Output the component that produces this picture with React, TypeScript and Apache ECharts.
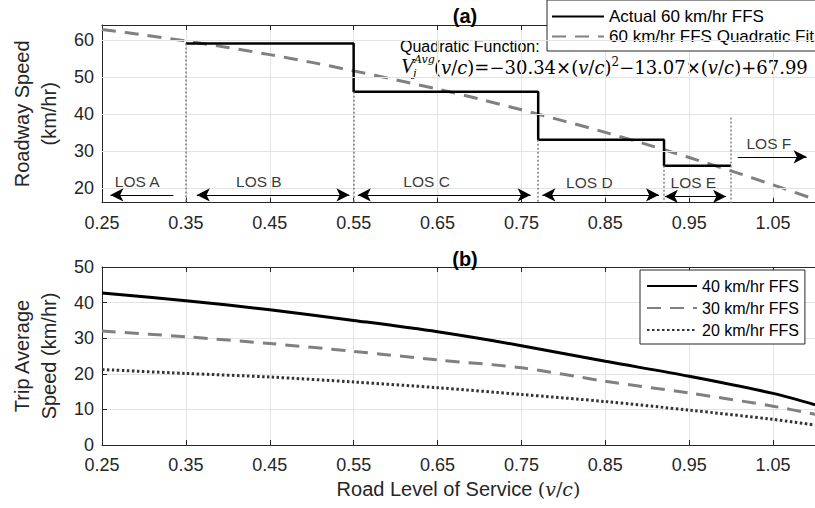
import React, { useEffect, useRef } from 'react';
import * as echarts from 'echarts';

// x offset: axis runs from v/c = 0.25
const X0 = 0.25;
const xTicksStep = 0.1;

// (a) y ticks
const speedTicksA = [20, 30, 40, 50, 60];

// (a) Actual 60 km/hr FFS (step breakpoints)
const stepX = [0.35, 0.55, 0.77, 0.92, 1.0];
const stepSpeed = [59, 46, 33, 26, 26];

// (a) Quadratic fit
const fitX = [0.25, 0.3, 0.35, 0.4, 0.45, 0.5, 0.55, 0.6, 0.65, 0.7, 0.75, 0.8, 0.85, 0.9, 0.95, 1.0, 1.05, 1.1];
const fitSpeed = [62.8, 61.3, 59.7, 57.9, 56.0, 53.9, 51.6, 49.2, 46.7, 44.0, 41.1, 38.1, 35.0, 31.7, 28.2, 24.6, 20.8, 16.9];

// LOS boundaries (dotted verticals)
const losDividerX = [0.35, 0.55, 0.77, 0.92, 1.0];
const losDividerTop = [59, 46, 33, 26, 39];

// LOS labels and arrows
const losNames = ['LOS A', 'LOS B', 'LOS C', 'LOS D', 'LOS E', 'LOS F'];
const losLabelX = [0.292, 0.437, 0.637, 0.831, 0.955, 1.045];
const losLabelY = [21.6, 21.6, 21.6, 21.4, 21.4, 32.0];
const losArrowFrom = [0.335, 0.363, 0.555, 0.775, 0.921, 1.008];
const losArrowTo = [0.26, 0.545, 0.761, 0.914, 0.994, 1.09];
const losArrowY = [18.1, 18.1, 18.1, 18.1, 17.7, 28.4];
const losArrowBoth = [false, true, true, true, true, false];

// (b) Trip average speed
const tripX = [0.25, 0.35, 0.45, 0.55, 0.65, 0.75, 0.85, 0.95, 1.05, 1.1];
const trip40 = [42.7, 40.5, 38.0, 35.0, 31.8, 27.9, 23.5, 19.3, 14.5, 11.3];
const trip30 = [32.0, 30.4, 28.5, 26.3, 23.9, 21.7, 17.9, 14.6, 10.9, 8.6];
const trip20 = [21.2, 20.1, 19.1, 17.7, 16.1, 14.2, 12.2, 9.8, 7.2, 5.6];

const SANS = '"Liberation Sans", Arial, Helvetica, sans-serif';
const SERIF = '"DejaVu Serif", serif';
const TIMES = '"Liberation Serif", "Times New Roman", serif';
const AX = '#262626';
const GRIDC = '#e3e3e3';

const pts = (xs: number[], ys: number[]) => xs.map((x, i) => [x - X0, ys[i]]);

export default function App() {
  const ref = useRef<HTMLDivElement>(null);
  useEffect(() => {
    document.body.style.margin = '0';
    const chart = echarts.init(ref.current!, undefined, { renderer: 'svg' });

    const xCommon = (gridIndex: number) => ({
      type: 'value' as const,
      gridIndex,
      min: 0,
      max: 0.85,
      interval: xTicksStep,
      axisLine: { show: true, lineStyle: { color: AX, width: 1 } },
      axisTick: { show: true, inside: true, length: 5, lineStyle: { color: AX } },
      axisLabel: {
        show: true,
        showMaxLabel: false,
        margin: 11,
        fontSize: 18,
        fontFamily: SANS,
        color: AX,
        formatter: (v: number) => (v + X0).toFixed(2),
      },
      splitLine: { show: true, lineStyle: { color: GRIDC, width: 1 } },
    });
    const xTop = (gridIndex: number) => ({
      type: 'value' as const,
      gridIndex,
      position: 'top' as const,
      min: 0,
      max: 0.85,
      interval: xTicksStep,
      axisLine: { show: true, lineStyle: { color: AX, width: 1 } },
      axisTick: { show: true, inside: true, length: 5, lineStyle: { color: AX } },
      axisLabel: { show: false },
      splitLine: { show: false },
    });
    const yBase = {
      type: 'value' as const,
      interval: 10,
      axisLine: { show: true, lineStyle: { color: AX, width: 1 } },
      nameLocation: 'middle' as const,
      nameGap: 40,
      nameTextStyle: { fontSize: 20, fontFamily: SANS, color: AX, lineHeight: 27 },
    };
    const labelStyle = { margin: 8, fontSize: 18, fontFamily: SANS, color: AX };

    const arrowData = losNames.map((_, i) => [
      { coord: [losArrowFrom[i] - X0, losArrowY[i]], symbol: losArrowBoth[i] ? 'arrow' : 'none' },
      { coord: [losArrowTo[i] - X0, losArrowY[i]], symbol: 'arrow' },
    ]);
    const dividerData = losDividerX.map((x, i) => [
      { coord: [x - X0, losDividerTop[i]] },
      { coord: [x - X0, 16] },
    ]);
    const hGridData = speedTicksA.map((v) => [
      { coord: [0, v] },
      { coord: [0.85, v] },
    ]);

    const legendCommon = {
      orient: 'vertical',
      backgroundColor: '#fff',
      borderColor: AX,
      borderWidth: 1,
      borderRadius: 0,
      itemHeight: 16,
      itemStyle: { opacity: 0 },
    };

    const option: any = {
      animation: false,
      backgroundColor: '#fff',
      title: [
        { text: '(a)', left: 460, top: 1, textAlign: 'center', textStyle: { fontSize: 20, fontWeight: 'bold', fontFamily: SANS, color: '#000' } },
        { text: '(b)', left: 460, top: 244, textAlign: 'center', textStyle: { fontSize: 20, fontWeight: 'bold', fontFamily: SANS, color: '#000' } },
      ],
      grid: [
        { left: 99, top: 25, right: -6.5, height: 177.7 },
        { left: 99, top: 267, right: -6.5, height: 178 },
      ],
      xAxis: [
        xCommon(0),
        {
          ...xCommon(1),
          name: '{a|Road Level of Service }{r|(}{i|v}{r|/}{i|c}{r|)}',
          nameLocation: 'middle',
          nameGap: 34,
          nameTextStyle: {
            color: AX,
            rich: {
              a: { fontSize: 20, fontFamily: SANS, color: AX },
              r: { fontSize: 19, fontFamily: SERIF, color: AX },
              i: { fontSize: 19, fontFamily: SERIF, fontStyle: 'italic', color: AX },
            },
          },
        },
        xTop(0),
        xTop(1),
      ],
      yAxis: [
        {
          ...yBase,
          gridIndex: 0,
          min: 16,
          max: 64,
          name: 'Roadway Speed\n(km/hr)',
          axisTick: { show: true, inside: true, length: 5, lineStyle: { color: AX }, customValues: speedTicksA },
          axisLabel: { ...labelStyle, customValues: speedTicksA },
          splitLine: { show: false },
        },
        {
          ...yBase,
          gridIndex: 1,
          min: 0,
          max: 50,
          name: 'Trip Average\nSpeed (km/hr)',
          axisTick: { show: true, inside: true, length: 5, lineStyle: { color: AX } },
          axisLabel: { ...labelStyle },
          splitLine: { show: true, lineStyle: { color: GRIDC, width: 1 } },
        },
      ],
      legend: [
        {
          ...legendCommon,
          data: ['Actual 60 km/hr FFS', '60 km/hr FFS Quadratic Fit'],
          left: 547,
          top: 0,
          padding: [8, 6, 6, 4],
          itemWidth: 52,
          itemGap: 3,
          textStyle: { fontSize: 17, fontFamily: SANS, color: '#000' },
        },
        {
          ...legendCommon,
          data: ['40 km/hr FFS', '30 km/hr FFS', '20 km/hr FFS'],
          left: 640,
          top: 270,
          padding: [8, 6, 6, 6],
          itemWidth: 50,
          itemGap: 6,
          textStyle: { fontSize: 16, fontFamily: SANS, color: '#000' },
        },
      ],
      graphic: [
        {
          type: 'text',
          x: 400,
          y: 46,
          style: { text: 'Quadratic Function:', fontSize: 16, fontFamily: SANS, fill: '#000', align: 'left', verticalAlign: 'middle' },
        },
        {
          type: 'text',
          x: 401,
          y: 66,
          style: { text: 'V', fontSize: 21, fontFamily: TIMES, fontStyle: 'italic', fill: '#000', align: 'left', verticalAlign: 'middle' },
        },
        {
          type: 'text',
          x: 414,
          y: 59.5,
          style: { text: 'Avg', fontSize: 11, fontFamily: SERIF, fontStyle: 'italic', fill: '#000', align: 'left', verticalAlign: 'middle' },
        },
        {
          type: 'text',
          x: 413,
          y: 73,
          style: { text: 'j', fontSize: 11, fontFamily: SERIF, fontStyle: 'italic', fill: '#000', align: 'left', verticalAlign: 'middle' },
        },
        {
          type: 'text',
          x: 434,
          y: 67,
          style: {
            text: '{r|(}{i|v}{r|/}{i|c}{r|)=−30.34×(}{i|v}{r|/}{i|c}{r|)}{s|2}{r|−13.07×(}{i|v}{r|/}{i|c}{r|)+67.99}',
            align: 'left',
            verticalAlign: 'middle',
            rich: {
              r: { fontSize: 18, fontFamily: SERIF, fill: '#000', lineHeight: 22 },
              i: { fontSize: 18, fontFamily: SERIF, fontStyle: 'italic', fill: '#000', lineHeight: 22 },
              s: { fontSize: 12, fontFamily: SERIF, fill: '#000', verticalAlign: 'top', lineHeight: 12 },
            },
          },
        },
      ],
      series: [
        {
          name: 'Actual 60 km/hr FFS',
          type: 'line',
          xAxisIndex: 0,
          yAxisIndex: 0,
          step: 'end',
          data: pts(stepX, stepSpeed),
          symbol: 'none',
          z: 4,
          lineStyle: { color: '#000', width: 2.5 },
          itemStyle: { color: '#000' },
        },
        {
          name: '60 km/hr FFS Quadratic Fit',
          type: 'line',
          xAxisIndex: 0,
          yAxisIndex: 0,
          data: pts(fitX, fitSpeed),
          smooth: 0.3,
          symbol: 'none',
          z: 3,
          lineStyle: { color: '#808080', width: 3, type: [14, 9] },
          itemStyle: { color: '#808080' },
        },
        {
          name: 'gridlines',
          type: 'line',
          xAxisIndex: 0,
          yAxisIndex: 0,
          data: [],
          z: 1,
          markLine: {
            silent: true,
            symbol: ['none', 'none'],
            label: { show: false },
            lineStyle: { color: GRIDC, width: 1, type: 'solid' },
            emphasis: { disabled: true },
            data: hGridData,
          },
        },
        {
          name: 'dividers',
          type: 'line',
          xAxisIndex: 0,
          yAxisIndex: 0,
          data: [],
          z: 2,
          markLine: {
            silent: true,
            symbol: ['none', 'none'],
            label: { show: false },
            lineStyle: { color: '#808080', width: 1.5, type: [2, 2] },
            emphasis: { disabled: true },
            data: dividerData,
          },
        },
        {
          name: 'arrows',
          type: 'line',
          xAxisIndex: 0,
          yAxisIndex: 0,
          data: [],
          z: 5,
          markLine: {
            silent: true,
            symbolSize: [10, 13],
            label: { show: false },
            lineStyle: { color: '#000', width: 1.2, type: 'solid' },
            emphasis: { disabled: true },
            data: arrowData,
          },
        },
        {
          name: 'LOS labels',
          type: 'scatter',
          xAxisIndex: 0,
          yAxisIndex: 0,
          symbol: 'circle',
          symbolSize: 1,
          silent: true,
          itemStyle: { color: 'rgba(0,0,0,0)' },
          data: losNames.map((n, i) => [losLabelX[i] - X0, losLabelY[i], n]),
          label: {
            show: true,
            position: 'inside',
            formatter: (p: any) => p.data[2],
            fontSize: 15.5,
            fontFamily: SANS,
            color: '#000',
          },
        },
        {
          name: '40 km/hr FFS',
          type: 'line',
          xAxisIndex: 1,
          yAxisIndex: 1,
          data: pts(tripX, trip40),
          smooth: 0.3,
          symbol: 'none',
          lineStyle: { color: '#000', width: 3 },
          itemStyle: { color: '#000' },
        },
        {
          name: '30 km/hr FFS',
          type: 'line',
          xAxisIndex: 1,
          yAxisIndex: 1,
          data: pts(tripX, trip30),
          smooth: 0.3,
          symbol: 'none',
          lineStyle: { color: '#808080', width: 3, type: [14, 9] },
          itemStyle: { color: '#808080' },
        },
        {
          name: '20 km/hr FFS',
          type: 'line',
          xAxisIndex: 1,
          yAxisIndex: 1,
          data: pts(tripX, trip20),
          smooth: 0.3,
          symbol: 'none',
          lineStyle: { color: '#333', width: 3, type: [2.5, 2.5] },
          itemStyle: { color: '#333' },
        },
      ],
    };
    chart.setOption(option);
    return () => chart.dispose();
  }, []);
  return <div ref={ref} style={{ position: 'absolute', left: 0, top: 0, width: 815, height: 508 }} />;
}
